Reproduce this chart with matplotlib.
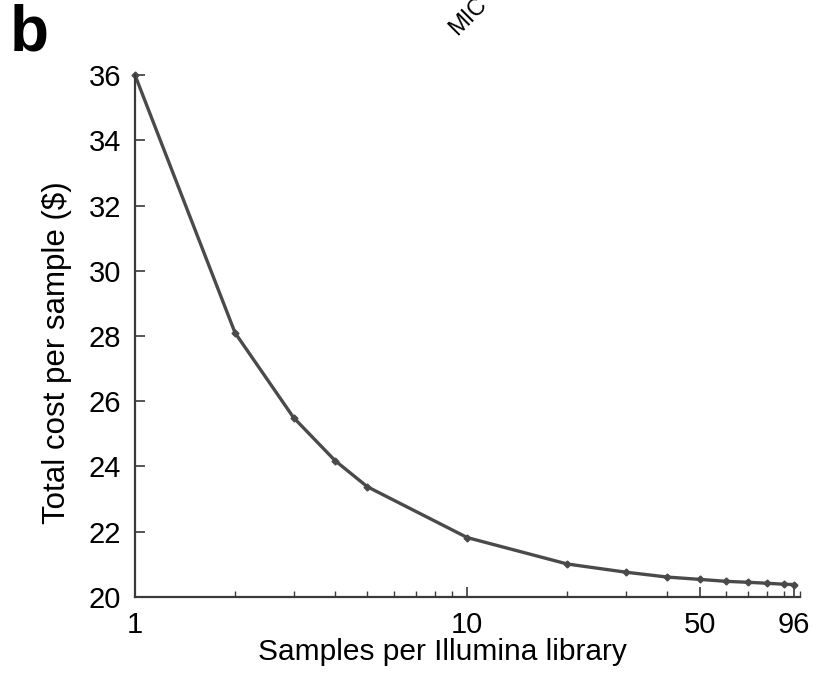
import matplotlib
matplotlib.use("Agg")
import matplotlib.pyplot as plt
from matplotlib.ticker import FixedLocator, NullFormatter

plt.rcParams["font.family"] = ["Liberation Sans", "DejaVu Sans"]

# samples pooled per library vs. total cost per sample
samples = [1, 2, 3, 4, 5, 10, 20, 30, 40, 50, 60, 70, 80, 90, 96]
cost = [36.0, 28.1, 25.5, 24.18, 23.38, 21.82, 21.01, 20.76, 20.61, 20.54,
        20.48, 20.45, 20.42, 20.39, 20.38]

x_ticks = [1, 10, 50, 96]
x_minor = [2, 3, 4, 5, 6, 7, 8, 9, 20, 30, 40, 60, 70, 80, 90, 100]
y_ticks = [20, 22, 24, 26, 28, 30, 32, 34, 36]

line_col = "#4a4a4a"

fig = plt.figure(figsize=(8.16, 6.77), dpi=100)
ax = fig.add_axes([0.1654, 0.1182, 0.8146, 0.7710])

ax.plot(samples, cost, color=line_col, lw=2.4, marker="D", ms=3.5,
        markeredgecolor=line_col, markerfacecolor=line_col, clip_on=False)

ax.set_xscale("log")
ax.set_xlim(1, 100)
ax.set_ylim(20, 36)
ax.xaxis.set_major_locator(FixedLocator(x_ticks))
ax.set_xticklabels([str(t) for t in x_ticks])
ax.xaxis.set_minor_locator(FixedLocator(x_minor))
ax.xaxis.set_minor_formatter(NullFormatter())
ax.set_yticks(y_ticks)

for s in ("top", "right"):
    ax.spines[s].set_visible(False)
for s in ("left", "bottom"):
    ax.spines[s].set_color("#3a3a3a")
    ax.spines[s].set_linewidth(1.6)

ax.tick_params(axis="both", which="major", direction="in", length=7, width=1.2,
               color="#3a3a3a", labelsize=21, pad=10)
ax.tick_params(axis="x", which="minor", direction="in", length=4, width=1.0,
               color="#3a3a3a")

ax.set_xlabel("Samples per Illumina library", fontsize=21.5, labelpad=0)
ax.xaxis.set_label_coords(0.462, -0.078)
ax.set_ylabel("Total cost per sample (\\$)", fontsize=22.5)
ax.yaxis.set_label_coords(-0.095, 0.469)

fig.text(0.012, 0.995, "b", fontsize=46, fontweight="bold", va="top", ha="left")
fig.text(457 / 816, 1 - 36 / 677, "MIC", fontsize=17, rotation=45, ha="left",
         va="baseline", rotation_mode="anchor")

fig.savefig("out.png", dpi=100)
